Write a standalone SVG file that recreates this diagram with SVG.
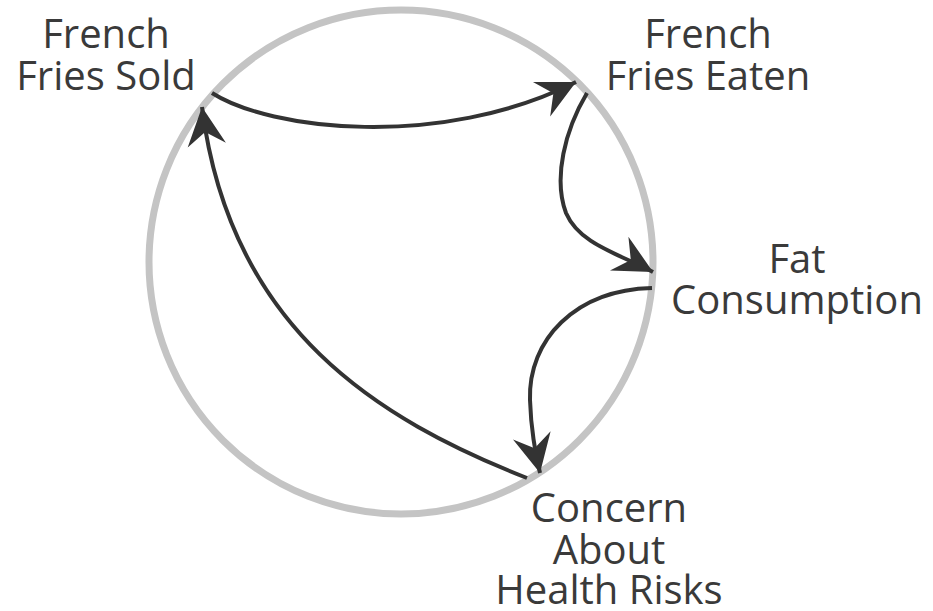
<svg xmlns="http://www.w3.org/2000/svg" width="933" height="611" viewBox="0 0 933 611">
<defs>
<style>
.lbl{font-family:"Open Sans","Noto Sans","Liberation Sans",sans-serif;font-size:40px;fill:#3a3a3a;text-anchor:middle}
.ring{fill:none;stroke:#c4c4c4;stroke-width:7}
.link{fill:none;stroke:#333333;stroke-width:4;marker-end:url(#ah)}
</style>
<marker id="ah" markerUnits="userSpaceOnUse" markerWidth="44" markerHeight="44" viewBox="-38 -20 40 40" refX="0" refY="0" orient="auto">
<path d="M0,0 L-35,-17.5 L-23,0 L-35,17.5 Z" fill="#333333"/>
</marker>
</defs>
<rect width="933" height="611" fill="#ffffff"/>
<circle class="ring" cx="401" cy="262" r="252"/>
<g id="connectors">
<path class="link" d="M212,93 C270,130 440,150 576,82"/>
<path class="link" d="M587,93 C565,130 553,178 566,213 C580,245 620,254 653,272"/>
<path class="link" d="M652,288 C575,290 528,340 530,400 C531,430 535,450 540,473"/>
<path class="link" d="M527,478 C380,420 230,330 202,107"/>
</g>
<g id="node-sold"><text class="lbl" x="106" y="48">French</text><text class="lbl" x="106" y="90">Fries Sold</text></g>
<g id="node-eaten"><text class="lbl" x="708" y="48">French</text><text class="lbl" x="708" y="90">Fries Eaten</text></g>
<g id="node-fat"><text class="lbl" x="797" y="273">Fat</text><text class="lbl" x="797" y="314">Consumption</text></g>
<g id="node-concern"><text class="lbl" x="609" y="522">Concern</text><text class="lbl" x="609" y="564">About</text><text class="lbl" x="609" y="604">Health Risks</text></g>
</svg>
